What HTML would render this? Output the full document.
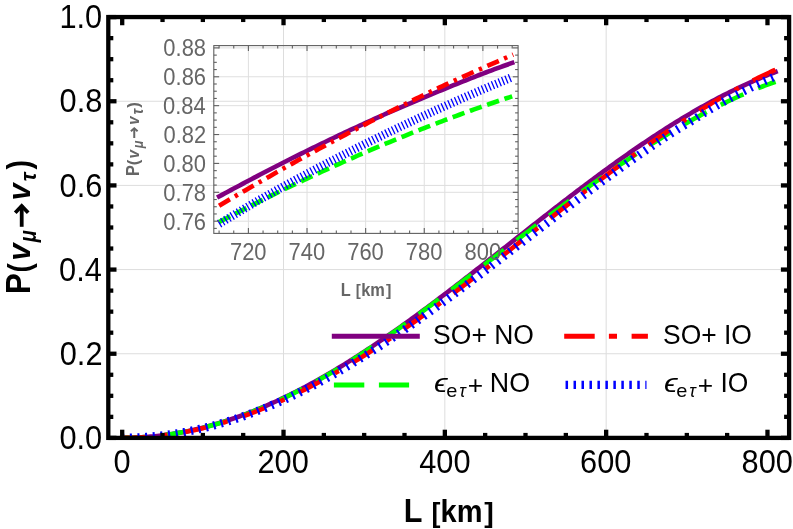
<!DOCTYPE html>
<html><head><meta charset="utf-8"><title>P(nu_mu to nu_tau) vs L</title>
<style>html,body{margin:0;padding:0;background:#fff;}svg{display:block;will-change:transform;}text{font-family:"Liberation Sans",sans-serif;}</style>
</head><body>
<svg width="793" height="529" viewBox="0 0 793 529">
<rect width="793" height="529" fill="#fff"/>
<g stroke="#dddddd" stroke-width="1">
<line x1="283.52" y1="17.05" x2="283.52" y2="437.90" />
<line x1="444.84" y1="17.05" x2="444.84" y2="437.90" />
<line x1="606.16" y1="17.05" x2="606.16" y2="437.90" />
<line x1="108.30" y1="353.74" x2="789.10" y2="353.74" />
<line x1="108.30" y1="269.58" x2="789.10" y2="269.58" />
<line x1="108.30" y1="185.42" x2="789.10" y2="185.42" />
<line x1="108.30" y1="101.26" x2="789.10" y2="101.26" />
</g>
<clipPath id="cm"><rect x="108.30" y="17.05" width="680.80" height="420.85"/></clipPath>
<g fill="none" stroke-linecap="butt" stroke-linejoin="round" clip-path="url(#cm)">
<path d="M122.20,437.90 L124.38,437.89 L126.56,437.87 L128.73,437.83 L130.91,437.78 L133.09,437.71 L135.27,437.63 L137.44,437.53 L139.62,437.42 L141.80,437.29 L143.98,437.14 L146.16,436.99 L148.33,436.81 L150.51,436.62 L152.69,436.42 L154.87,436.20 L157.05,435.97 L159.22,435.72 L161.40,435.45 L163.58,435.17 L165.76,434.88 L167.93,434.57 L170.11,434.25 L172.29,433.91 L174.47,433.56 L176.65,433.19 L178.82,432.81 L181.00,432.41 L183.18,432.00 L185.36,431.57 L187.53,431.13 L189.71,430.67 L191.89,430.20 L194.07,429.72 L196.25,429.22 L198.42,428.70 L200.60,428.18 L202.78,427.63 L204.96,427.08 L207.13,426.50 L209.31,425.92 L211.49,425.32 L213.67,424.70 L215.85,424.08 L218.02,423.43 L220.20,422.78 L222.38,422.11 L224.56,421.42 L226.74,420.72 L228.91,420.01 L231.09,419.29 L233.27,418.55 L235.45,417.80 L237.62,417.03 L239.80,416.25 L241.98,415.46 L244.16,414.65 L246.34,413.83 L248.51,413.00 L250.69,412.15 L252.87,411.29 L255.05,410.42 L257.22,409.53 L259.40,408.63 L261.58,407.72 L263.76,406.80 L265.94,405.86 L268.11,404.91 L270.29,403.95 L272.47,402.97 L274.65,401.98 L276.83,400.99 L279.00,399.97 L281.18,398.95 L283.36,397.91 L285.54,396.87 L287.71,395.81 L289.89,394.73 L292.07,393.65 L294.25,392.55 L296.43,391.45 L298.60,390.33 L300.78,389.20 L302.96,388.06 L305.14,386.91 L307.31,385.74 L309.49,384.57 L311.67,383.38 L313.85,382.18 L316.03,380.98 L318.20,379.76 L320.38,378.53 L322.56,377.29 L324.74,376.04 L326.92,374.78 L329.09,373.51 L331.27,372.23 L333.45,370.94 L335.63,369.64 L337.80,368.33 L339.98,367.01 L342.16,365.68 L344.34,364.34 L346.52,362.99 L348.69,361.63 L350.87,360.27 L353.05,358.89 L355.23,357.51 L357.40,356.11 L359.58,354.71 L361.76,353.30 L363.94,351.88 L366.12,350.45 L368.29,349.01 L370.47,347.57 L372.65,346.12 L374.83,344.65 L377.00,343.19 L379.18,341.71 L381.36,340.22 L383.54,338.73 L385.72,337.23 L387.89,335.73 L390.07,334.21 L392.25,332.69 L394.43,331.16 L396.61,329.63 L398.78,328.09 L400.96,326.54 L403.14,324.99 L405.32,323.42 L407.49,321.86 L409.67,320.28 L411.85,318.71 L414.03,317.12 L416.21,315.53 L418.38,313.93 L420.56,312.33 L422.74,310.72 L424.92,309.11 L427.09,307.49 L429.27,305.87 L431.45,304.24 L433.63,302.61 L435.81,300.98 L437.98,299.33 L440.16,297.69 L442.34,296.04 L444.52,294.38 L446.70,292.73 L448.87,291.07 L451.05,289.40 L453.23,287.73 L455.41,286.06 L457.58,284.38 L459.76,282.70 L461.94,281.02 L464.12,279.34 L466.30,277.65 L468.47,275.96 L470.65,274.26 L472.83,272.57 L475.01,270.87 L477.18,269.17 L479.36,267.47 L481.54,265.77 L483.72,264.06 L485.90,262.35 L488.07,260.64 L490.25,258.93 L492.43,257.22 L494.61,255.51 L496.79,253.80 L498.96,252.08 L501.14,250.37 L503.32,248.65 L505.50,246.94 L507.67,245.22 L509.85,243.51 L512.03,241.79 L514.21,240.07 L516.39,238.36 L518.56,236.64 L520.74,234.93 L522.92,233.21 L525.10,231.50 L527.27,229.79 L529.45,228.07 L531.63,226.36 L533.81,224.66 L535.99,222.95 L538.16,221.24 L540.34,219.54 L542.52,217.84 L544.70,216.13 L546.87,214.44 L549.05,212.74 L551.23,211.05 L553.41,209.36 L555.59,207.67 L557.76,205.98 L559.94,204.30 L562.12,202.62 L564.30,200.94 L566.48,199.27 L568.65,197.60 L570.83,195.93 L573.01,194.27 L575.19,192.61 L577.36,190.95 L579.54,189.30 L581.72,187.66 L583.90,186.01 L586.08,184.38 L588.25,182.74 L590.43,181.11 L592.61,179.49 L594.79,177.87 L596.96,176.26 L599.14,174.65 L601.32,173.05 L603.50,171.45 L605.68,169.86 L607.85,168.27 L610.03,166.69 L612.21,165.11 L614.39,163.55 L616.57,161.98 L618.74,160.43 L620.92,158.88 L623.10,157.33 L625.28,155.80 L627.45,154.27 L629.63,152.75 L631.81,151.23 L633.99,149.72 L636.17,148.22 L638.34,146.73 L640.52,145.24 L642.70,143.76 L644.88,142.29 L647.05,140.83 L649.23,139.37 L651.41,137.93 L653.59,136.49 L655.77,135.06 L657.94,133.63 L660.12,132.22 L662.30,130.81 L664.48,129.42 L666.66,128.03 L668.83,126.65 L671.01,125.28 L673.19,123.92 L675.37,122.57 L677.54,121.23 L679.72,119.90 L681.90,118.58 L684.08,117.26 L686.26,115.96 L688.43,114.67 L690.61,113.38 L692.79,112.11 L694.97,110.85 L697.14,109.60 L699.32,108.35 L701.50,107.12 L703.68,105.90 L705.86,104.69 L708.03,103.49 L710.21,102.30 L712.39,101.13 L714.57,99.96 L716.74,98.80 L718.92,97.66 L721.10,96.53 L723.28,95.41 L725.46,94.30 L727.63,93.20 L729.81,92.11 L731.99,91.03 L734.17,89.97 L736.35,88.92 L738.52,87.88 L740.70,86.85 L742.88,85.84 L745.06,84.83 L747.23,83.84 L749.41,82.86 L751.59,81.89 L753.77,80.93 L755.95,79.98 L758.12,79.03 L760.30,78.10 L762.48,77.17 L764.66,76.25 L766.83,75.35 L769.01,74.47 L771.19,73.62 L773.37,72.78 L775.55,71.97" stroke="#800080" stroke-width="4.60"  stroke-linecap="square"/>
<path d="M122.20,437.90 L124.38,437.89 L126.56,437.87 L128.73,437.83 L130.91,437.78 L133.09,437.71 L135.27,437.63 L137.44,437.53 L139.62,437.42 L141.80,437.29 L143.98,437.15 L146.16,437.00 L148.33,436.82 L150.51,436.64 L152.69,436.44 L154.87,436.22 L157.05,435.99 L159.22,435.74 L161.40,435.48 L163.58,435.21 L165.76,434.92 L167.93,434.61 L170.11,434.29 L172.29,433.96 L174.47,433.61 L176.65,433.25 L178.82,432.87 L181.00,432.48 L183.18,432.07 L185.36,431.65 L187.53,431.21 L189.71,430.76 L191.89,430.30 L194.07,429.82 L196.25,429.32 L198.42,428.82 L200.60,428.29 L202.78,427.76 L204.96,427.21 L207.13,426.64 L209.31,426.06 L211.49,425.47 L213.67,424.86 L215.85,424.24 L218.02,423.61 L220.20,422.96 L222.38,422.29 L224.56,421.62 L226.74,420.93 L228.91,420.22 L231.09,419.51 L233.27,418.77 L235.45,418.03 L237.62,417.27 L239.80,416.50 L241.98,415.71 L244.16,414.91 L246.34,414.10 L248.51,413.28 L250.69,412.44 L252.87,411.58 L255.05,410.72 L257.22,409.84 L259.40,408.95 L261.58,408.05 L263.76,407.13 L265.94,406.20 L268.11,405.26 L270.29,404.30 L272.47,403.33 L274.65,402.35 L276.83,401.36 L279.00,400.36 L281.18,399.34 L283.36,398.31 L285.54,397.27 L287.71,396.21 L289.89,395.15 L292.07,394.07 L294.25,392.98 L296.43,391.88 L298.60,390.76 L300.78,389.64 L302.96,388.50 L305.14,387.35 L307.31,386.19 L309.49,385.02 L311.67,383.84 L313.85,382.64 L316.03,381.44 L318.20,380.22 L320.38,379.00 L322.56,377.76 L324.74,376.51 L326.92,375.25 L329.09,373.98 L331.27,372.70 L333.45,371.41 L335.63,370.11 L337.80,368.80 L339.98,367.48 L342.16,366.15 L344.34,364.81 L346.52,363.46 L348.69,362.10 L350.87,360.73 L353.05,359.36 L355.23,357.97 L357.40,356.57 L359.58,355.17 L361.76,353.76 L363.94,352.33 L366.12,350.90 L368.29,349.46 L370.47,348.02 L372.65,346.56 L374.83,345.10 L377.00,343.63 L379.18,342.15 L381.36,340.66 L383.54,339.17 L385.72,337.67 L387.89,336.16 L390.07,334.65 L392.25,333.13 L394.43,331.60 L396.61,330.06 L398.78,328.52 L400.96,326.98 L403.14,325.42 L405.32,323.87 L407.49,322.30 L409.67,320.73 L411.85,319.16 L414.03,317.58 L416.21,315.99 L418.38,314.40 L420.56,312.81 L422.74,311.21 L424.92,309.61 L427.09,308.00 L429.27,306.39 L431.45,304.78 L433.63,303.16 L435.81,301.54 L437.98,299.91 L440.16,298.28 L442.34,296.65 L444.52,295.02 L446.70,293.38 L448.87,291.74 L451.05,290.10 L453.23,288.45 L455.41,286.81 L457.58,285.16 L459.76,283.51 L461.94,281.85 L464.12,280.20 L466.30,278.55 L468.47,276.89 L470.65,275.23 L472.83,273.57 L475.01,271.91 L477.18,270.25 L479.36,268.59 L481.54,266.93 L483.72,265.27 L485.90,263.61 L488.07,261.94 L490.25,260.28 L492.43,258.62 L494.61,256.96 L496.79,255.30 L498.96,253.63 L501.14,251.97 L503.32,250.31 L505.50,248.65 L507.67,246.99 L509.85,245.34 L512.03,243.68 L514.21,242.02 L516.39,240.37 L518.56,238.72 L520.74,237.06 L522.92,235.41 L525.10,233.76 L527.27,232.12 L529.45,230.47 L531.63,228.83 L533.81,227.19 L535.99,225.55 L538.16,223.91 L540.34,222.27 L542.52,220.64 L544.70,219.01 L546.87,217.38 L549.05,215.76 L551.23,214.13 L553.41,212.51 L555.59,210.90 L557.76,209.28 L559.94,207.67 L562.12,206.06 L564.30,204.46 L566.48,202.86 L568.65,201.26 L570.83,199.66 L573.01,198.07 L575.19,196.49 L577.36,194.90 L579.54,193.33 L581.72,191.75 L583.90,190.18 L586.08,188.61 L588.25,187.05 L590.43,185.49 L592.61,183.94 L594.79,182.39 L596.96,180.85 L599.14,179.31 L601.32,177.78 L603.50,176.25 L605.68,174.72 L607.85,173.21 L610.03,171.69 L612.21,170.19 L614.39,168.69 L616.57,167.19 L618.74,165.70 L620.92,164.22 L623.10,162.74 L625.28,161.27 L627.45,159.81 L629.63,158.35 L631.81,156.90 L633.99,155.46 L636.17,154.02 L638.34,152.59 L640.52,151.17 L642.70,149.75 L644.88,148.35 L647.05,146.95 L649.23,145.55 L651.41,144.17 L653.59,142.79 L655.77,141.43 L657.94,140.06 L660.12,138.71 L662.30,137.37 L664.48,136.03 L666.66,134.71 L668.83,133.39 L671.01,132.08 L673.19,130.78 L675.37,129.49 L677.54,128.21 L679.72,126.94 L681.90,125.67 L684.08,124.42 L686.26,123.18 L688.43,121.94 L690.61,120.72 L692.79,119.50 L694.97,118.30 L697.14,117.11 L699.32,115.92 L701.50,114.75 L703.68,113.59 L705.86,112.43 L708.03,111.29 L710.21,110.16 L712.39,109.04 L714.57,107.94 L716.74,106.84 L718.92,105.75 L721.10,104.68 L723.28,103.61 L725.46,102.56 L727.63,101.52 L729.81,100.49 L731.99,99.47 L734.17,98.47 L736.35,97.48 L738.52,96.49 L740.70,95.52 L742.88,94.57 L745.06,93.62 L747.23,92.69 L749.41,91.77 L751.59,90.86 L753.77,89.97 L755.95,89.08 L758.12,88.21 L760.30,87.36 L762.48,86.51 L764.66,85.68 L766.83,84.86 L769.01,84.06 L771.19,83.26 L773.37,82.48 L775.55,81.72" stroke="#00ff00" stroke-width="4.60" stroke-dasharray="25.04 15.84"/>
<path d="M122.20,437.90 L124.38,437.89 L126.56,437.87 L128.73,437.84 L130.91,437.79 L133.09,437.72 L135.27,437.64 L137.44,437.55 L139.62,437.44 L141.80,437.32 L143.98,437.18 L146.16,437.03 L148.33,436.87 L150.51,436.69 L152.69,436.50 L154.87,436.29 L157.05,436.07 L159.22,435.83 L161.40,435.58 L163.58,435.31 L165.76,435.04 L167.93,434.74 L170.11,434.44 L172.29,434.12 L174.47,433.78 L176.65,433.43 L178.82,433.07 L181.00,432.69 L183.18,432.30 L185.36,431.89 L187.53,431.48 L189.71,431.04 L191.89,430.60 L194.07,430.13 L196.25,429.66 L198.42,429.17 L200.60,428.67 L202.78,428.15 L204.96,427.62 L207.13,427.08 L209.31,426.53 L211.49,425.96 L213.67,425.37 L215.85,424.77 L218.02,424.16 L220.20,423.54 L222.38,422.90 L224.56,422.25 L226.74,421.59 L228.91,420.91 L231.09,420.22 L233.27,419.52 L235.45,418.80 L237.62,418.07 L239.80,417.33 L241.98,416.58 L244.16,415.81 L246.34,415.03 L248.51,414.23 L250.69,413.43 L252.87,412.61 L255.05,411.78 L257.22,410.93 L259.40,410.08 L261.58,409.21 L263.76,408.33 L265.94,407.43 L268.11,406.53 L270.29,405.61 L272.47,404.68 L274.65,403.74 L276.83,402.78 L279.00,401.82 L281.18,400.84 L283.36,399.85 L285.54,398.85 L287.71,397.84 L289.89,396.82 L292.07,395.78 L294.25,394.73 L296.43,393.68 L298.60,392.61 L300.78,391.53 L302.96,390.44 L305.14,389.33 L307.31,388.22 L309.49,387.10 L311.67,385.96 L313.85,384.81 L316.03,383.66 L318.20,382.49 L320.38,381.31 L322.56,380.13 L324.74,378.93 L326.92,377.72 L329.09,376.50 L331.27,375.27 L333.45,374.04 L335.63,372.79 L337.80,371.53 L339.98,370.26 L342.16,368.99 L344.34,367.70 L346.52,366.41 L348.69,365.10 L350.87,363.79 L353.05,362.46 L355.23,361.13 L357.40,359.79 L359.58,358.44 L361.76,357.08 L363.94,355.71 L366.12,354.34 L368.29,352.95 L370.47,351.56 L372.65,350.16 L374.83,348.75 L377.00,347.33 L379.18,345.91 L381.36,344.47 L383.54,343.03 L385.72,341.58 L387.89,340.13 L390.07,338.66 L392.25,337.19 L394.43,335.72 L396.61,334.23 L398.78,332.74 L400.96,331.24 L403.14,329.73 L405.32,328.22 L407.49,326.70 L409.67,325.18 L411.85,323.64 L414.03,322.11 L416.21,320.56 L418.38,319.01 L420.56,317.45 L422.74,315.89 L424.92,314.32 L427.09,312.75 L429.27,311.17 L431.45,309.59 L433.63,308.00 L435.81,306.40 L437.98,304.80 L440.16,303.20 L442.34,301.59 L444.52,299.97 L446.70,298.35 L448.87,296.73 L451.05,295.10 L453.23,293.47 L455.41,291.83 L457.58,290.19 L459.76,288.55 L461.94,286.90 L464.12,285.25 L466.30,283.59 L468.47,281.93 L470.65,280.27 L472.83,278.60 L475.01,276.94 L477.18,275.26 L479.36,273.59 L481.54,271.91 L483.72,270.23 L485.90,268.55 L488.07,266.87 L490.25,265.18 L492.43,263.49 L494.61,261.80 L496.79,260.11 L498.96,258.41 L501.14,256.71 L503.32,255.02 L505.50,253.32 L507.67,251.62 L509.85,249.92 L512.03,248.21 L514.21,246.51 L516.39,244.80 L518.56,243.10 L520.74,241.39 L522.92,239.69 L525.10,237.98 L527.27,236.27 L529.45,234.57 L531.63,232.86 L533.81,231.15 L535.99,229.44 L538.16,227.74 L540.34,226.03 L542.52,224.33 L544.70,222.62 L546.87,220.92 L549.05,219.22 L551.23,217.52 L553.41,215.82 L555.59,214.12 L557.76,212.42 L559.94,210.72 L562.12,209.03 L564.30,207.34 L566.48,205.65 L568.65,203.96 L570.83,202.27 L573.01,200.59 L575.19,198.91 L577.36,197.23 L579.54,195.55 L581.72,193.88 L583.90,192.21 L586.08,190.54 L588.25,188.88 L590.43,187.21 L592.61,185.56 L594.79,183.90 L596.96,182.25 L599.14,180.61 L601.32,178.96 L603.50,177.32 L605.68,175.69 L607.85,174.06 L610.03,172.43 L612.21,170.81 L614.39,169.19 L616.57,167.58 L618.74,165.97 L620.92,164.37 L623.10,162.77 L625.28,161.17 L627.45,159.59 L629.63,158.00 L631.81,156.43 L633.99,154.85 L636.17,153.29 L638.34,151.73 L640.52,150.17 L642.70,148.63 L644.88,147.08 L647.05,145.55 L649.23,144.02 L651.41,142.49 L653.59,140.98 L655.77,139.47 L657.94,137.96 L660.12,136.47 L662.30,134.98 L664.48,133.49 L666.66,132.02 L668.83,130.55 L671.01,129.09 L673.19,127.64 L675.37,126.19 L677.54,124.75 L679.72,123.32 L681.90,121.90 L684.08,120.48 L686.26,119.08 L688.43,117.68 L690.61,116.29 L692.79,114.91 L694.97,113.54 L697.14,112.17 L699.32,110.82 L701.50,109.47 L703.68,108.13 L705.86,106.80 L708.03,105.48 L710.21,104.17 L712.39,102.87 L714.57,101.58 L716.74,100.29 L718.92,99.02 L721.10,97.75 L723.28,96.50 L725.46,95.26 L727.63,94.02 L729.81,92.80 L731.99,91.58 L734.17,90.38 L736.35,89.18 L738.52,88.00 L740.70,86.83 L742.88,85.66 L745.06,84.51 L747.23,83.37 L749.41,82.24 L751.59,81.13 L753.77,80.03 L755.95,78.94 L758.12,77.87 L760.30,76.82 L762.48,75.78 L764.66,74.75 L766.83,73.73 L769.01,72.71 L771.19,71.70 L773.37,70.69 L775.55,69.68" stroke="#ff0000" stroke-width="4.60" stroke-dasharray="25.04 15.84 4.60 15.84"/>
<path d="M122.20,437.90 L124.38,437.89 L126.56,437.87 L128.73,437.84 L130.91,437.79 L133.09,437.72 L135.27,437.64 L137.44,437.55 L139.62,437.44 L141.80,437.32 L143.98,437.19 L146.16,437.04 L148.33,436.87 L150.51,436.70 L152.69,436.50 L154.87,436.30 L157.05,436.08 L159.22,435.84 L161.40,435.59 L163.58,435.33 L165.76,435.05 L167.93,434.76 L170.11,434.46 L172.29,434.14 L174.47,433.80 L176.65,433.46 L178.82,433.10 L181.00,432.72 L183.18,432.33 L185.36,431.93 L187.53,431.51 L189.71,431.08 L191.89,430.64 L194.07,430.18 L196.25,429.71 L198.42,429.22 L200.60,428.72 L202.78,428.21 L204.96,427.69 L207.13,427.15 L209.31,426.59 L211.49,426.03 L213.67,425.45 L215.85,424.85 L218.02,424.25 L220.20,423.63 L222.38,422.99 L224.56,422.35 L226.74,421.69 L228.91,421.01 L231.09,420.33 L233.27,419.63 L235.45,418.92 L237.62,418.19 L239.80,417.46 L241.98,416.71 L244.16,415.94 L246.34,415.17 L248.51,414.38 L250.69,413.58 L252.87,412.77 L255.05,411.94 L257.22,411.10 L259.40,410.25 L261.58,409.39 L263.76,408.51 L265.94,407.63 L268.11,406.73 L270.29,405.82 L272.47,404.89 L274.65,403.96 L276.83,403.01 L279.00,402.05 L281.18,401.08 L283.36,400.10 L285.54,399.11 L287.71,398.10 L289.89,397.08 L292.07,396.06 L294.25,395.02 L296.43,393.97 L298.60,392.91 L300.78,391.83 L302.96,390.75 L305.14,389.66 L307.31,388.55 L309.49,387.44 L311.67,386.31 L313.85,385.17 L316.03,384.03 L318.20,382.87 L320.38,381.70 L322.56,380.52 L324.74,379.33 L326.92,378.13 L329.09,376.93 L331.27,375.71 L333.45,374.48 L335.63,373.24 L337.80,372.00 L339.98,370.74 L342.16,369.47 L344.34,368.20 L346.52,366.91 L348.69,365.62 L350.87,364.32 L353.05,363.00 L355.23,361.68 L357.40,360.35 L359.58,359.02 L361.76,357.67 L363.94,356.31 L366.12,354.95 L368.29,353.58 L370.47,352.20 L372.65,350.81 L374.83,349.41 L377.00,348.01 L379.18,346.60 L381.36,345.18 L383.54,343.75 L385.72,342.32 L387.89,340.87 L390.07,339.42 L392.25,337.97 L394.43,336.50 L396.61,335.03 L398.78,333.56 L400.96,332.07 L403.14,330.58 L405.32,329.09 L407.49,327.58 L409.67,326.07 L411.85,324.56 L414.03,323.03 L416.21,321.51 L418.38,319.97 L420.56,318.43 L422.74,316.89 L424.92,315.33 L427.09,313.78 L429.27,312.22 L431.45,310.65 L433.63,309.08 L435.81,307.50 L437.98,305.92 L440.16,304.33 L442.34,302.74 L444.52,301.15 L446.70,299.55 L448.87,297.94 L451.05,296.33 L453.23,294.72 L455.41,293.10 L457.58,291.48 L459.76,289.86 L461.94,288.23 L464.12,286.60 L466.30,284.96 L468.47,283.33 L470.65,281.69 L472.83,280.04 L475.01,278.40 L477.18,276.75 L479.36,275.09 L481.54,273.44 L483.72,271.78 L485.90,270.12 L488.07,268.46 L490.25,266.80 L492.43,265.13 L494.61,263.46 L496.79,261.80 L498.96,260.12 L501.14,258.45 L503.32,256.78 L505.50,255.10 L507.67,253.43 L509.85,251.75 L512.03,250.07 L514.21,248.40 L516.39,246.72 L518.56,245.04 L520.74,243.36 L522.92,241.68 L525.10,240.00 L527.27,238.32 L529.45,236.64 L531.63,234.96 L533.81,233.28 L535.99,231.60 L538.16,229.92 L540.34,228.25 L542.52,226.57 L544.70,224.89 L546.87,223.22 L549.05,221.55 L551.23,219.88 L553.41,218.21 L555.59,216.54 L557.76,214.87 L559.94,213.20 L562.12,211.54 L564.30,209.88 L566.48,208.22 L568.65,206.56 L570.83,204.91 L573.01,203.26 L575.19,201.61 L577.36,199.96 L579.54,198.32 L581.72,196.68 L583.90,195.04 L586.08,193.41 L588.25,191.78 L590.43,190.15 L592.61,188.52 L594.79,186.91 L596.96,185.29 L599.14,183.68 L601.32,182.07 L603.50,180.47 L605.68,178.87 L607.85,177.27 L610.03,175.68 L612.21,174.09 L614.39,172.51 L616.57,170.94 L618.74,169.37 L620.92,167.80 L623.10,166.24 L625.28,164.68 L627.45,163.13 L629.63,161.59 L631.81,160.05 L633.99,158.52 L636.17,156.99 L638.34,155.47 L640.52,153.95 L642.70,152.44 L644.88,150.94 L647.05,149.44 L649.23,147.95 L651.41,146.47 L653.59,144.99 L655.77,143.53 L657.94,142.06 L660.12,140.61 L662.30,139.16 L664.48,137.72 L666.66,136.29 L668.83,134.88 L671.01,133.47 L673.19,132.09 L675.37,130.73 L677.54,129.38 L679.72,128.06 L681.90,126.76 L684.08,125.46 L686.26,124.17 L688.43,122.86 L690.61,121.54 L692.79,120.19 L694.97,118.82 L697.14,117.43 L699.32,116.05 L701.50,114.67 L703.68,113.31 L705.86,111.97 L708.03,110.65 L710.21,109.36 L712.39,108.09 L714.57,106.83 L716.74,105.59 L718.92,104.36 L721.10,103.14 L723.28,101.93 L725.46,100.74 L727.63,99.55 L729.81,98.37 L731.99,97.21 L734.17,96.05 L736.35,94.91 L738.52,93.77 L740.70,92.65 L742.88,91.53 L745.06,90.43 L747.23,89.34 L749.41,88.25 L751.59,87.18 L753.77,86.12 L755.95,85.08 L758.12,84.04 L760.30,83.01 L762.48,82.00 L764.66,80.99 L766.83,80.00 L769.01,79.02 L771.19,78.05 L773.37,77.10 L775.55,76.15" stroke="#0000ff" stroke-width="8.40" stroke-dasharray="2.1 5.58"/>
</g>
<g stroke="#000" stroke-width="4.30" fill="none">
<rect x="108.30" y="17.05" width="680.80" height="420.85"/>
<line x1="122.20" y1="437.90" x2="122.20" y2="429.70" />
<line x1="122.20" y1="17.05" x2="122.20" y2="25.25" />
<line x1="162.53" y1="437.90" x2="162.53" y2="432.90" />
<line x1="162.53" y1="17.05" x2="162.53" y2="22.05" />
<line x1="202.86" y1="437.90" x2="202.86" y2="432.90" />
<line x1="202.86" y1="17.05" x2="202.86" y2="22.05" />
<line x1="243.19" y1="437.90" x2="243.19" y2="432.90" />
<line x1="243.19" y1="17.05" x2="243.19" y2="22.05" />
<line x1="283.52" y1="437.90" x2="283.52" y2="429.70" />
<line x1="283.52" y1="17.05" x2="283.52" y2="25.25" />
<line x1="323.85" y1="437.90" x2="323.85" y2="432.90" />
<line x1="323.85" y1="17.05" x2="323.85" y2="22.05" />
<line x1="364.18" y1="437.90" x2="364.18" y2="432.90" />
<line x1="364.18" y1="17.05" x2="364.18" y2="22.05" />
<line x1="404.51" y1="437.90" x2="404.51" y2="432.90" />
<line x1="404.51" y1="17.05" x2="404.51" y2="22.05" />
<line x1="444.84" y1="437.90" x2="444.84" y2="429.70" />
<line x1="444.84" y1="17.05" x2="444.84" y2="25.25" />
<line x1="485.17" y1="437.90" x2="485.17" y2="432.90" />
<line x1="485.17" y1="17.05" x2="485.17" y2="22.05" />
<line x1="525.50" y1="437.90" x2="525.50" y2="432.90" />
<line x1="525.50" y1="17.05" x2="525.50" y2="22.05" />
<line x1="565.83" y1="437.90" x2="565.83" y2="432.90" />
<line x1="565.83" y1="17.05" x2="565.83" y2="22.05" />
<line x1="606.16" y1="437.90" x2="606.16" y2="429.70" />
<line x1="606.16" y1="17.05" x2="606.16" y2="25.25" />
<line x1="646.49" y1="437.90" x2="646.49" y2="432.90" />
<line x1="646.49" y1="17.05" x2="646.49" y2="22.05" />
<line x1="686.82" y1="437.90" x2="686.82" y2="432.90" />
<line x1="686.82" y1="17.05" x2="686.82" y2="22.05" />
<line x1="727.15" y1="437.90" x2="727.15" y2="432.90" />
<line x1="727.15" y1="17.05" x2="727.15" y2="22.05" />
<line x1="767.48" y1="437.90" x2="767.48" y2="429.70" />
<line x1="767.48" y1="17.05" x2="767.48" y2="25.25" />
<line x1="108.30" y1="437.90" x2="116.50" y2="437.90" />
<line x1="789.10" y1="437.90" x2="780.90" y2="437.90" />
<line x1="108.30" y1="416.86" x2="113.30" y2="416.86" />
<line x1="789.10" y1="416.86" x2="784.10" y2="416.86" />
<line x1="108.30" y1="395.82" x2="113.30" y2="395.82" />
<line x1="789.10" y1="395.82" x2="784.10" y2="395.82" />
<line x1="108.30" y1="374.78" x2="113.30" y2="374.78" />
<line x1="789.10" y1="374.78" x2="784.10" y2="374.78" />
<line x1="108.30" y1="353.74" x2="116.50" y2="353.74" />
<line x1="789.10" y1="353.74" x2="780.90" y2="353.74" />
<line x1="108.30" y1="332.70" x2="113.30" y2="332.70" />
<line x1="789.10" y1="332.70" x2="784.10" y2="332.70" />
<line x1="108.30" y1="311.66" x2="113.30" y2="311.66" />
<line x1="789.10" y1="311.66" x2="784.10" y2="311.66" />
<line x1="108.30" y1="290.62" x2="113.30" y2="290.62" />
<line x1="789.10" y1="290.62" x2="784.10" y2="290.62" />
<line x1="108.30" y1="269.58" x2="116.50" y2="269.58" />
<line x1="789.10" y1="269.58" x2="780.90" y2="269.58" />
<line x1="108.30" y1="248.54" x2="113.30" y2="248.54" />
<line x1="789.10" y1="248.54" x2="784.10" y2="248.54" />
<line x1="108.30" y1="227.50" x2="113.30" y2="227.50" />
<line x1="789.10" y1="227.50" x2="784.10" y2="227.50" />
<line x1="108.30" y1="206.46" x2="113.30" y2="206.46" />
<line x1="789.10" y1="206.46" x2="784.10" y2="206.46" />
<line x1="108.30" y1="185.42" x2="116.50" y2="185.42" />
<line x1="789.10" y1="185.42" x2="780.90" y2="185.42" />
<line x1="108.30" y1="164.38" x2="113.30" y2="164.38" />
<line x1="789.10" y1="164.38" x2="784.10" y2="164.38" />
<line x1="108.30" y1="143.34" x2="113.30" y2="143.34" />
<line x1="789.10" y1="143.34" x2="784.10" y2="143.34" />
<line x1="108.30" y1="122.30" x2="113.30" y2="122.30" />
<line x1="789.10" y1="122.30" x2="784.10" y2="122.30" />
<line x1="108.30" y1="101.26" x2="116.50" y2="101.26" />
<line x1="789.10" y1="101.26" x2="780.90" y2="101.26" />
<line x1="108.30" y1="80.22" x2="113.30" y2="80.22" />
<line x1="789.10" y1="80.22" x2="784.10" y2="80.22" />
<line x1="108.30" y1="59.18" x2="113.30" y2="59.18" />
<line x1="789.10" y1="59.18" x2="784.10" y2="59.18" />
<line x1="108.30" y1="38.14" x2="113.30" y2="38.14" />
<line x1="789.10" y1="38.14" x2="784.10" y2="38.14" />
<line x1="108.30" y1="17.10" x2="116.50" y2="17.10" />
<line x1="789.10" y1="17.10" x2="780.90" y2="17.10" />
</g>
<g font-family="'Liberation Sans', sans-serif" style="font-kerning:none;opacity:0.999">
<text transform="translate(59.41,449.03) scale(0.9620,1.0284)" font-size="32.00" fill="#000">0.0</text>
<text transform="translate(59.75,364.87) scale(0.9620,1.0284)" font-size="32.00" fill="#000">0.2</text>
<text transform="translate(59.11,280.71) scale(0.9620,1.0284)" font-size="32.00" fill="#000">0.4</text>
<text transform="translate(59.56,196.55) scale(0.9620,1.0284)" font-size="32.00" fill="#000">0.6</text>
<text transform="translate(59.54,112.39) scale(0.9620,1.0284)" font-size="32.00" fill="#000">0.8</text>
<text transform="translate(59.41,28.23) scale(0.9620,1.0284)" font-size="32.00" fill="#000">1.0</text>
<text transform="translate(113.44,472.78) scale(0.9620,1.0284)" font-size="32.00" fill="#000">0</text>
<text transform="translate(257.47,472.78) scale(0.9620,1.0284)" font-size="32.00" fill="#000">200</text>
<text transform="translate(419.21,472.78) scale(0.9620,1.0284)" font-size="32.00" fill="#000">400</text>
<text transform="translate(580.10,472.78) scale(0.9620,1.0284)" font-size="32.00" fill="#000">600</text>
<text transform="translate(741.53,472.78) scale(0.9620,1.0284)" font-size="32.00" fill="#000">800</text>
<text transform="translate(403.65,522.00) scale(0.9439,1.0000)" font-size="32.41" font-weight="bold" font-style="normal" fill="#000">L</text>
<text transform="translate(431.49,521.69) scale(0.9581,1.0000)" font-size="28.00" font-weight="bold" font-style="normal" fill="#000">[</text>
<text transform="translate(440.57,522.00) scale(0.9425,1.0000)" font-size="30.78" font-weight="bold" font-style="normal" fill="#000">km</text>
<text transform="translate(484.35,521.69) scale(1.0256,1.0000)" font-size="28.00" font-weight="bold" font-style="normal" fill="#000">]</text>
<text transform="rotate(-90) translate(-293.98,30.00) scale(0.8878,1.0000)" font-size="35.03" font-weight="bold" font-style="normal" fill="#000">P</text>
<text transform="rotate(-90) translate(-272.38,30.42) scale(0.8587,1.0000)" font-size="32.18" font-weight="bold" font-style="normal" fill="#000">(</text>
<text transform="rotate(-90) translate(-260.67,30.30) scale(0.9758,1.0000)" font-size="31.80" font-weight="bold" font-style="italic" fill="#000">v</text>
<text transform="rotate(-90) translate(-242.24,36.12) scale(0.8332,1.0000)" font-size="24.07" font-weight="bold" font-style="italic" fill="#000">μ</text>
<text transform="rotate(-90) translate(-200.46,30.30) scale(0.9938,1.0000)" font-size="31.04" font-weight="bold" font-style="italic" fill="#000">v</text>
<text transform="rotate(-90) translate(-181.30,36.08) scale(0.9559,1.0000)" font-size="22.49" font-weight="bold" font-style="italic" fill="#000">τ</text>
<text transform="rotate(-90) translate(-169.43,30.28) scale(0.8858,1.0000)" font-size="32.40" font-weight="bold" font-style="normal" fill="#000">)</text>
<g transform="rotate(-90)">
<path d="M-226.80,21.70 H-205.58" stroke="#000" stroke-width="3.80" fill="none"/>
<path d="M-212.70,15.23 L-206.04,21.70 L-212.70,28.17" stroke="#000" stroke-width="3.80" fill="none" stroke-linejoin="miter" stroke-miterlimit="10"/>
</g>
</g>
<g stroke="#dfdfdf" stroke-width="1">
<line x1="248.40" y1="45.60" x2="248.40" y2="233.40" />
<line x1="307.02" y1="45.60" x2="307.02" y2="233.40" />
<line x1="365.64" y1="45.60" x2="365.64" y2="233.40" />
<line x1="424.26" y1="45.60" x2="424.26" y2="233.40" />
<line x1="482.88" y1="45.60" x2="482.88" y2="233.40" />
<line x1="213.80" y1="221.18" x2="518.10" y2="221.18" />
<line x1="213.80" y1="192.30" x2="518.10" y2="192.30" />
<line x1="213.80" y1="163.42" x2="518.10" y2="163.42" />
<line x1="213.80" y1="134.54" x2="518.10" y2="134.54" />
<line x1="213.80" y1="105.66" x2="518.10" y2="105.66" />
<line x1="213.80" y1="76.78" x2="518.10" y2="76.78" />
<line x1="213.80" y1="47.90" x2="518.10" y2="47.90" />
</g>
<clipPath id="ci"><rect x="213.80" y="45.60" width="304.30" height="187.80"/></clipPath>
<g fill="none" stroke-linecap="butt" stroke-linejoin="round" clip-path="url(#ci)">
<path d="M219.09,196.48 L222.02,194.89 L224.95,193.30 L227.88,191.71 L230.81,190.13 L233.75,188.55 L236.68,186.98 L239.61,185.41 L242.54,183.85 L245.47,182.29 L248.40,180.74 L251.33,179.19 L254.26,177.65 L257.19,176.12 L260.12,174.58 L263.06,173.06 L265.99,171.54 L268.92,170.02 L271.85,168.51 L274.78,167.00 L277.71,165.50 L280.64,164.00 L283.57,162.51 L286.50,161.03 L289.43,159.55 L292.37,158.07 L295.30,156.60 L298.23,155.14 L301.16,153.68 L304.09,152.22 L307.02,150.78 L309.95,149.33 L312.88,147.89 L315.81,146.46 L318.74,145.03 L321.68,143.61 L324.61,142.20 L327.54,140.78 L330.47,139.38 L333.40,137.98 L336.33,136.58 L339.26,135.19 L342.19,133.81 L345.12,132.43 L348.05,131.06 L350.99,129.69 L353.92,128.33 L356.85,126.98 L359.78,125.63 L362.71,124.28 L365.64,122.94 L368.57,121.61 L371.50,120.28 L374.43,118.96 L377.36,117.64 L380.30,116.33 L383.23,115.02 L386.16,113.72 L389.09,112.43 L392.02,111.14 L394.95,109.86 L397.88,108.58 L400.81,107.31 L403.74,106.04 L406.67,104.78 L409.61,103.53 L412.54,102.28 L415.47,101.03 L418.40,99.79 L421.33,98.55 L424.26,97.32 L427.19,96.10 L430.12,94.87 L433.05,93.66 L435.98,92.44 L438.92,91.23 L441.85,90.02 L444.78,88.82 L447.71,87.62 L450.64,86.43 L453.57,85.23 L456.50,84.05 L459.43,82.86 L462.36,81.69 L465.29,80.51 L468.23,79.35 L471.16,78.18 L474.09,77.03 L477.02,75.89 L479.95,74.75 L482.88,73.62 L485.81,72.50 L488.74,71.39 L491.67,70.30 L494.60,69.21 L497.53,68.13 L500.47,67.07 L503.40,66.02 L506.33,64.98 L509.26,63.95 L512.19,62.93" stroke="#800080" stroke-width="4.60"  stroke-linecap="square"/>
<path d="M219.09,222.04 L222.02,220.52 L224.95,219.01 L227.88,217.49 L230.81,215.99 L233.75,214.48 L236.68,212.99 L239.61,211.49 L242.54,210.01 L245.47,208.52 L248.40,207.05 L251.33,205.57 L254.26,204.11 L257.19,202.64 L260.12,201.18 L263.06,199.73 L265.99,198.28 L268.92,196.84 L271.85,195.40 L274.78,193.97 L277.71,192.55 L280.64,191.12 L283.57,189.71 L286.50,188.29 L289.43,186.89 L292.37,185.49 L295.30,184.09 L298.23,182.70 L301.16,181.31 L304.09,179.93 L307.02,178.56 L309.95,177.19 L312.88,175.82 L315.81,174.47 L318.74,173.11 L321.68,171.76 L324.61,170.42 L327.54,169.08 L330.47,167.75 L333.40,166.42 L336.33,165.10 L339.26,163.79 L342.19,162.48 L345.12,161.17 L348.05,159.87 L350.99,158.58 L353.92,157.29 L356.85,156.01 L359.78,154.73 L362.71,153.46 L365.64,152.20 L368.57,150.94 L371.50,149.68 L374.43,148.43 L377.36,147.19 L380.30,145.95 L383.23,144.72 L386.16,143.49 L389.09,142.27 L392.02,141.06 L394.95,139.85 L397.88,138.65 L400.81,137.45 L403.74,136.26 L406.67,135.07 L409.61,133.89 L412.54,132.72 L415.47,131.55 L418.40,130.39 L421.33,129.23 L424.26,128.08 L427.19,126.94 L430.12,125.80 L433.05,124.66 L435.98,123.54 L438.92,122.42 L441.85,121.30 L444.78,120.19 L447.71,119.09 L450.64,117.99 L453.57,116.90 L456.50,115.82 L459.43,114.74 L462.36,113.66 L465.29,112.60 L468.23,111.54 L471.16,110.48 L474.09,109.43 L477.02,108.39 L479.95,107.35 L482.88,106.32 L485.81,105.30 L488.74,104.28 L491.67,103.27 L494.60,102.26 L497.53,101.26 L500.47,100.27 L503.40,99.28 L506.33,98.30 L509.26,97.33 L512.19,96.36" stroke="#00ff00" stroke-width="4.60" stroke-dasharray="12.5 5.8"/>
<path d="M219.09,205.72 L222.03,203.97 L224.97,202.23 L227.91,200.50 L230.86,198.77 L233.80,197.04 L236.74,195.31 L239.68,193.60 L242.62,191.88 L245.56,190.17 L248.50,188.46 L251.44,186.76 L254.39,185.06 L257.33,183.37 L260.27,181.68 L263.21,179.99 L266.15,178.31 L269.09,176.63 L272.03,174.96 L274.97,173.29 L277.92,171.63 L280.86,169.97 L283.80,168.32 L286.74,166.67 L289.68,165.02 L292.62,163.38 L295.56,161.74 L298.50,160.11 L301.45,158.48 L304.39,156.86 L307.33,155.24 L310.27,153.62 L313.21,152.01 L316.15,150.41 L319.09,148.81 L322.03,147.21 L324.98,145.62 L327.92,144.03 L330.86,142.45 L333.80,140.87 L336.74,139.30 L339.68,137.73 L342.62,136.17 L345.56,134.61 L348.51,133.06 L351.45,131.51 L354.39,129.96 L357.33,128.42 L360.27,126.89 L363.21,125.36 L366.15,123.84 L369.09,122.32 L372.04,120.80 L374.98,119.29 L377.92,117.78 L380.86,116.28 L383.80,114.79 L386.74,113.30 L389.68,111.81 L392.62,110.33 L395.57,108.86 L398.51,107.39 L401.45,105.92 L404.39,104.47 L407.33,103.01 L410.27,101.56 L413.21,100.12 L416.15,98.69 L419.10,97.26 L422.04,95.83 L424.98,94.42 L427.92,93.01 L430.86,91.60 L433.80,90.20 L436.74,88.82 L439.68,87.43 L442.63,86.06 L445.57,84.69 L448.51,83.33 L451.45,81.98 L454.39,80.63 L457.33,79.30 L460.27,77.97 L463.21,76.64 L466.16,75.32 L469.10,74.01 L472.04,72.70 L474.98,71.40 L477.92,70.10 L480.86,68.80 L483.80,67.50 L486.74,66.21 L489.69,64.92 L492.63,63.62 L495.57,62.33 L498.51,61.04 L501.45,59.75 L504.39,58.46 L507.33,57.17 L510.27,55.88 L513.22,54.60" stroke="#ff0000" stroke-width="4.60" stroke-dasharray="12.55 5.78 3.4 5.78"/>
<path d="M219.09,223.85 L222.02,222.09 L224.95,220.33 L227.88,218.57 L230.81,216.81 L233.75,215.04 L236.68,213.29 L239.61,211.53 L242.54,209.78 L245.47,208.04 L248.40,206.31 L251.33,204.59 L254.26,202.88 L257.19,201.18 L260.12,199.50 L263.06,197.82 L265.99,196.15 L268.92,194.50 L271.85,192.85 L274.78,191.22 L277.71,189.59 L280.64,187.98 L283.57,186.37 L286.50,184.77 L289.43,183.17 L292.37,181.59 L295.30,180.01 L298.23,178.43 L301.16,176.87 L304.09,175.30 L307.02,173.75 L309.95,172.20 L312.88,170.65 L315.81,169.11 L318.74,167.57 L321.68,166.04 L324.61,164.52 L327.54,162.99 L330.47,161.48 L333.40,159.96 L336.33,158.46 L339.26,156.95 L342.19,155.46 L345.12,153.96 L348.05,152.48 L350.99,150.99 L353.92,149.51 L356.85,148.04 L359.78,146.57 L362.71,145.11 L365.64,143.65 L368.57,142.20 L371.50,140.75 L374.43,139.30 L377.36,137.86 L380.30,136.43 L383.23,135.00 L386.16,133.58 L389.09,132.16 L392.02,130.74 L394.95,129.33 L397.88,127.93 L400.81,126.53 L403.74,125.14 L406.67,123.75 L409.61,122.37 L412.54,120.99 L415.47,119.61 L418.40,118.24 L421.33,116.88 L424.26,115.52 L427.19,114.17 L430.12,112.82 L433.05,111.48 L435.98,110.14 L438.92,108.81 L441.85,107.49 L444.78,106.16 L447.71,104.85 L450.64,103.54 L453.57,102.23 L456.50,100.93 L459.43,99.64 L462.36,98.35 L465.29,97.06 L468.23,95.79 L471.16,94.51 L474.09,93.24 L477.02,91.98 L479.95,90.72 L482.88,89.47 L485.81,88.23 L488.74,86.99 L491.67,85.75 L494.60,84.52 L497.53,83.30 L500.47,82.08 L503.40,80.87 L506.33,79.66 L509.26,78.46 L512.19,77.26" stroke="#0000ff" stroke-width="8.40" stroke-dasharray="1.3 2.35"/>
</g>
<g stroke="#606060" stroke-width="1.1" fill="none">
<rect x="213.80" y="45.60" width="304.30" height="187.80"/>
<line x1="219.09" y1="233.40" x2="219.09" y2="230.40" />
<line x1="219.09" y1="45.60" x2="219.09" y2="48.60" />
<line x1="233.75" y1="233.40" x2="233.75" y2="230.40" />
<line x1="233.75" y1="45.60" x2="233.75" y2="48.60" />
<line x1="248.40" y1="233.40" x2="248.40" y2="228.10" />
<line x1="248.40" y1="45.60" x2="248.40" y2="50.90" />
<line x1="263.06" y1="233.40" x2="263.06" y2="230.40" />
<line x1="263.06" y1="45.60" x2="263.06" y2="48.60" />
<line x1="277.71" y1="233.40" x2="277.71" y2="230.40" />
<line x1="277.71" y1="45.60" x2="277.71" y2="48.60" />
<line x1="292.37" y1="233.40" x2="292.37" y2="230.40" />
<line x1="292.37" y1="45.60" x2="292.37" y2="48.60" />
<line x1="307.02" y1="233.40" x2="307.02" y2="228.10" />
<line x1="307.02" y1="45.60" x2="307.02" y2="50.90" />
<line x1="321.68" y1="233.40" x2="321.68" y2="230.40" />
<line x1="321.68" y1="45.60" x2="321.68" y2="48.60" />
<line x1="336.33" y1="233.40" x2="336.33" y2="230.40" />
<line x1="336.33" y1="45.60" x2="336.33" y2="48.60" />
<line x1="350.99" y1="233.40" x2="350.99" y2="230.40" />
<line x1="350.99" y1="45.60" x2="350.99" y2="48.60" />
<line x1="365.64" y1="233.40" x2="365.64" y2="228.10" />
<line x1="365.64" y1="45.60" x2="365.64" y2="50.90" />
<line x1="380.30" y1="233.40" x2="380.30" y2="230.40" />
<line x1="380.30" y1="45.60" x2="380.30" y2="48.60" />
<line x1="394.95" y1="233.40" x2="394.95" y2="230.40" />
<line x1="394.95" y1="45.60" x2="394.95" y2="48.60" />
<line x1="409.61" y1="233.40" x2="409.61" y2="230.40" />
<line x1="409.61" y1="45.60" x2="409.61" y2="48.60" />
<line x1="424.26" y1="233.40" x2="424.26" y2="228.10" />
<line x1="424.26" y1="45.60" x2="424.26" y2="50.90" />
<line x1="438.92" y1="233.40" x2="438.92" y2="230.40" />
<line x1="438.92" y1="45.60" x2="438.92" y2="48.60" />
<line x1="453.57" y1="233.40" x2="453.57" y2="230.40" />
<line x1="453.57" y1="45.60" x2="453.57" y2="48.60" />
<line x1="468.23" y1="233.40" x2="468.23" y2="230.40" />
<line x1="468.23" y1="45.60" x2="468.23" y2="48.60" />
<line x1="482.88" y1="233.40" x2="482.88" y2="228.10" />
<line x1="482.88" y1="45.60" x2="482.88" y2="50.90" />
<line x1="497.53" y1="233.40" x2="497.53" y2="230.40" />
<line x1="497.53" y1="45.60" x2="497.53" y2="48.60" />
<line x1="512.19" y1="233.40" x2="512.19" y2="230.40" />
<line x1="512.19" y1="45.60" x2="512.19" y2="48.60" />
<line x1="213.80" y1="228.40" x2="216.80" y2="228.40" />
<line x1="518.10" y1="228.40" x2="515.10" y2="228.40" />
<line x1="213.80" y1="221.18" x2="219.10" y2="221.18" />
<line x1="518.10" y1="221.18" x2="512.80" y2="221.18" />
<line x1="213.80" y1="213.96" x2="216.80" y2="213.96" />
<line x1="518.10" y1="213.96" x2="515.10" y2="213.96" />
<line x1="213.80" y1="206.74" x2="216.80" y2="206.74" />
<line x1="518.10" y1="206.74" x2="515.10" y2="206.74" />
<line x1="213.80" y1="199.52" x2="216.80" y2="199.52" />
<line x1="518.10" y1="199.52" x2="515.10" y2="199.52" />
<line x1="213.80" y1="192.30" x2="219.10" y2="192.30" />
<line x1="518.10" y1="192.30" x2="512.80" y2="192.30" />
<line x1="213.80" y1="185.08" x2="216.80" y2="185.08" />
<line x1="518.10" y1="185.08" x2="515.10" y2="185.08" />
<line x1="213.80" y1="177.86" x2="216.80" y2="177.86" />
<line x1="518.10" y1="177.86" x2="515.10" y2="177.86" />
<line x1="213.80" y1="170.64" x2="216.80" y2="170.64" />
<line x1="518.10" y1="170.64" x2="515.10" y2="170.64" />
<line x1="213.80" y1="163.42" x2="219.10" y2="163.42" />
<line x1="518.10" y1="163.42" x2="512.80" y2="163.42" />
<line x1="213.80" y1="156.20" x2="216.80" y2="156.20" />
<line x1="518.10" y1="156.20" x2="515.10" y2="156.20" />
<line x1="213.80" y1="148.98" x2="216.80" y2="148.98" />
<line x1="518.10" y1="148.98" x2="515.10" y2="148.98" />
<line x1="213.80" y1="141.76" x2="216.80" y2="141.76" />
<line x1="518.10" y1="141.76" x2="515.10" y2="141.76" />
<line x1="213.80" y1="134.54" x2="219.10" y2="134.54" />
<line x1="518.10" y1="134.54" x2="512.80" y2="134.54" />
<line x1="213.80" y1="127.32" x2="216.80" y2="127.32" />
<line x1="518.10" y1="127.32" x2="515.10" y2="127.32" />
<line x1="213.80" y1="120.10" x2="216.80" y2="120.10" />
<line x1="518.10" y1="120.10" x2="515.10" y2="120.10" />
<line x1="213.80" y1="112.88" x2="216.80" y2="112.88" />
<line x1="518.10" y1="112.88" x2="515.10" y2="112.88" />
<line x1="213.80" y1="105.66" x2="219.10" y2="105.66" />
<line x1="518.10" y1="105.66" x2="512.80" y2="105.66" />
<line x1="213.80" y1="98.44" x2="216.80" y2="98.44" />
<line x1="518.10" y1="98.44" x2="515.10" y2="98.44" />
<line x1="213.80" y1="91.22" x2="216.80" y2="91.22" />
<line x1="518.10" y1="91.22" x2="515.10" y2="91.22" />
<line x1="213.80" y1="84.00" x2="216.80" y2="84.00" />
<line x1="518.10" y1="84.00" x2="515.10" y2="84.00" />
<line x1="213.80" y1="76.78" x2="219.10" y2="76.78" />
<line x1="518.10" y1="76.78" x2="512.80" y2="76.78" />
<line x1="213.80" y1="69.56" x2="216.80" y2="69.56" />
<line x1="518.10" y1="69.56" x2="515.10" y2="69.56" />
<line x1="213.80" y1="62.34" x2="216.80" y2="62.34" />
<line x1="518.10" y1="62.34" x2="515.10" y2="62.34" />
<line x1="213.80" y1="55.12" x2="216.80" y2="55.12" />
<line x1="518.10" y1="55.12" x2="515.10" y2="55.12" />
<line x1="213.80" y1="47.90" x2="219.10" y2="47.90" />
<line x1="518.10" y1="47.90" x2="512.80" y2="47.90" />
</g>
<g font-family="'Liberation Sans', sans-serif" style="font-kerning:none;opacity:0.999">
<text transform="translate(163.37,229.69) scale(0.9750,1.0295)" font-size="22.50" fill="#666">0.76</text>
<text transform="translate(163.36,200.67) scale(0.9750,1.0295)" font-size="22.50" fill="#666">0.78</text>
<text transform="translate(163.26,171.65) scale(0.9750,1.0295)" font-size="22.50" fill="#666">0.80</text>
<text transform="translate(163.51,142.63) scale(0.9750,1.0295)" font-size="22.50" fill="#666">0.82</text>
<text transform="translate(163.05,113.61) scale(0.9750,1.0295)" font-size="22.50" fill="#666">0.84</text>
<text transform="translate(163.37,84.59) scale(0.9750,1.0295)" font-size="22.50" fill="#666">0.86</text>
<text transform="translate(163.36,55.57) scale(0.9750,1.0295)" font-size="22.50" fill="#666">0.88</text>
<text transform="translate(229.97,260.47) scale(0.9750,1.0295)" font-size="22.50" fill="#666">720</text>
<text transform="translate(288.59,260.47) scale(0.9750,1.0295)" font-size="22.50" fill="#666">740</text>
<text transform="translate(347.21,260.47) scale(0.9750,1.0295)" font-size="22.50" fill="#666">760</text>
<text transform="translate(405.83,260.47) scale(0.9750,1.0295)" font-size="22.50" fill="#666">780</text>
<text transform="translate(464.53,260.47) scale(0.9750,1.0295)" font-size="22.50" fill="#666">800</text>
<text transform="translate(340.81,295.80) scale(0.8867,1.0000)" font-size="18.46" font-weight="bold" font-style="normal" fill="#666">L</text>
<text transform="translate(355.85,295.66) scale(0.9392,1.0000)" font-size="16.09" font-weight="bold" font-style="normal" fill="#666">[</text>
<text transform="translate(361.26,295.80) scale(0.9124,1.0000)" font-size="17.94" font-weight="bold" font-style="normal" fill="#666">km</text>
<text transform="translate(386.00,295.66) scale(1.0097,1.0000)" font-size="16.09" font-weight="bold" font-style="normal" fill="#666">]</text>
<text transform="rotate(-90) translate(-175.89,138.50) scale(0.8877,1.0000)" font-size="18.31" font-weight="bold" font-style="normal" fill="#666">P</text>
<text transform="rotate(-90) translate(-165.13,138.69) scale(1.0146,1.0000)" font-size="16.41" font-weight="bold" font-style="normal" fill="#666">(</text>
<text transform="rotate(-90) translate(-158.62,138.90) scale(0.9102,1.0000)" font-size="16.85" font-weight="bold" font-style="italic" fill="#666">v</text>
<text transform="rotate(-90) translate(-148.31,143.29) scale(0.8099,1.0000)" font-size="15.50" font-weight="bold" font-style="italic" fill="#666">μ</text>
<text transform="rotate(-90) translate(-124.69,138.90) scale(0.8777,1.0000)" font-size="16.85" font-weight="bold" font-style="italic" fill="#666">v</text>
<text transform="rotate(-90) translate(-114.49,142.95) scale(0.8823,1.0000)" font-size="15.80" font-weight="bold" font-style="italic" fill="#666">τ</text>
<text transform="rotate(-90) translate(-107.82,138.69) scale(1.0146,1.0000)" font-size="16.41" font-weight="bold" font-style="normal" fill="#666">)</text>
<g transform="rotate(-90)">
<path d="M-138.00,134.25 H-128.10" stroke="#666" stroke-width="2.00" fill="none"/>
<path d="M-131.34,130.90 L-128.34,134.25 L-131.34,137.60" stroke="#666" stroke-width="2.00" fill="none" stroke-linejoin="miter" stroke-miterlimit="10"/>
</g>
</g>
<g fill="none">
<line x1="331.8" x2="419.8" y1="336.3" y2="336.3" stroke="#800080" stroke-width="4.9"/>
<path d="M333.9,385H364.3M378.9,385H409.1" stroke="#00ff00" stroke-width="5"/>
<path d="M564.2,336.3H594.7M608.9,336.3H617M631.6,336.3H647.9" stroke="#ff0000" stroke-width="5"/>
<path d="M565.55,384.9h2.5M573.52,384.9h2.5M581.49,384.9h2.5M589.46,384.9h2.5M597.43,384.9h2.5M605.40,384.9h2.5M613.37,384.9h2.5M621.34,384.9h2.5M629.31,384.9h2.5M637.28,384.9h2.5M645.3,384.9h1.2" stroke="#0000ff" stroke-width="8.1"/>
</g>
<g font-family="'Liberation Sans', sans-serif" style="font-kerning:none;opacity:0.999">
<text transform="translate(433.10,343.82) scale(0.9334,1.0000)" font-size="28.39" font-weight="normal" font-style="normal" fill="#000">SO+ NO</text>
<text transform="translate(663.10,343.82) scale(0.9310,1.0000)" font-size="28.39" font-weight="normal" font-style="normal" fill="#000">SO+ IO</text>
<text transform="translate(433.91,392.00) scale(1.1685,1.0000)" font-size="26.31" font-weight="normal" font-style="italic" fill="#000">ϵ</text>
<text transform="translate(446.15,396.81) scale(1.0553,1.0000)" font-size="18.98" font-weight="normal" font-style="normal" fill="#000">e</text>
<text transform="translate(459.36,397.01) scale(0.9140,1.0000)" font-size="19.14" font-weight="normal" font-style="italic" fill="#000">τ</text>
<text transform="translate(467.71,393.53) scale(1.0395,1.0000)" font-size="25.34" font-weight="normal" font-style="normal" fill="#000">+</text>
<text transform="translate(489.80,392.13) scale(0.9702,1.0000)" font-size="27.68" font-weight="normal" font-style="normal" fill="#000">NO</text>
<text transform="translate(663.91,392.00) scale(1.1685,1.0000)" font-size="26.31" font-weight="normal" font-style="italic" fill="#000">ϵ</text>
<text transform="translate(676.15,396.81) scale(1.0553,1.0000)" font-size="18.98" font-weight="normal" font-style="normal" fill="#000">e</text>
<text transform="translate(689.36,397.01) scale(0.9140,1.0000)" font-size="19.14" font-weight="normal" font-style="italic" fill="#000">τ</text>
<text transform="translate(697.71,393.53) scale(1.0395,1.0000)" font-size="25.34" font-weight="normal" font-style="normal" fill="#000">+</text>
<text transform="translate(720.46,392.13) scale(0.9548,1.0000)" font-size="27.68" font-weight="normal" font-style="normal" fill="#000">IO</text>
</g>
</svg>
</body></html>
